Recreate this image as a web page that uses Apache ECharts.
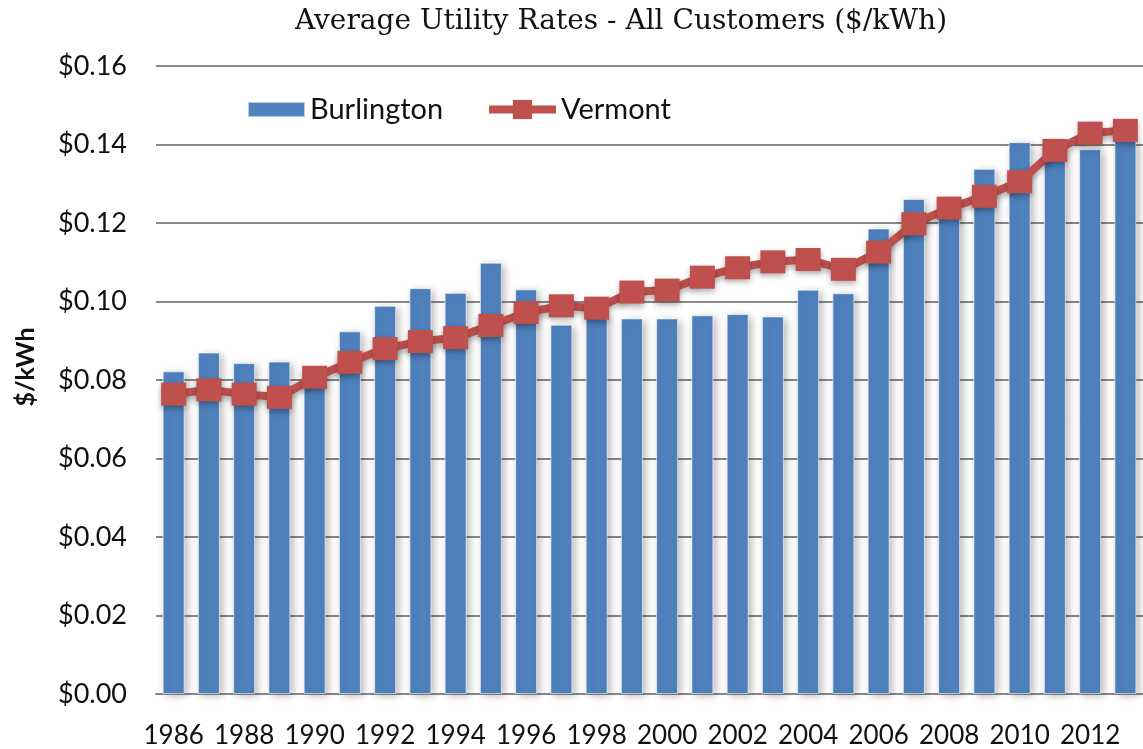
<!DOCTYPE html>
<html>
<head>
<meta charset="utf-8">
<script src="https://cdn.jsdelivr.net/npm/echarts@6/dist/echarts.min.js"></script>
<style>
  html, body { margin: 0; padding: 0; background: #fff; }
  #main { width: 1143px; height: 749px; }
</style>
</head>
<body>
<div id="main"></div>
<script>
var years = ['1986','1987','1988','1989','1990','1991','1992','1993','1994','1995',
    '1996','1997','1998','1999','2000','2001','2002','2003','2004','2005',
    '2006','2007','2008','2009','2010','2011','2012','2013']

var burlington = [0.0822, 0.0870, 0.0843, 0.0847, 0.0810, 0.0924, 0.0989, 0.1034, 0.1022, 0.1099,
    0.1031, 0.0941, 0.0970, 0.0957, 0.0957, 0.0965, 0.0968, 0.0962, 0.1030, 0.1021,
    0.1186, 0.1261, 0.1230, 0.1338, 0.1406, 0.1390, 0.1388, 0.1410]

var vermont = [0.0764, 0.0775, 0.0764, 0.0756, 0.0807, 0.0845, 0.0880, 0.0898, 0.0908, 0.0939,
    0.0972, 0.0989, 0.0983, 0.1024, 0.1029, 0.1062, 0.1086, 0.1101, 0.1107, 0.1082,
    0.1126, 0.1198, 0.1238, 0.1268, 0.1305, 0.1385, 0.1429, 0.1436]

var yTicks = [0, 0.16, 0.02]  // min, max, step

var myChart = echarts.init(document.getElementById('main'))

var option = {
    animation: false,
    title: {
        text: 'Average Utility Rates - All Customers ($/kWh)',
        left: 616,
        textAlign: 'center',
        top: 3,
        textStyle: {
            fontFamily: 'DejaVu Serif',
            fontWeight: 'normal',
            fontSize: 28,
            color: '#111'
        }
    },
    legend: [{
        data: ['Burlington'],
        left: 247,
        top: 95,
        padding: 0,
        itemWidth: 57,
        itemHeight: 15,
        icon: 'rect',
        textStyle: { fontFamily: 'Lato', fontSize: 29, color: '#111' }
    }, {
        data: ['Vermont'],
        left: 485,
        top: 95,
        padding: 0,
        itemWidth: 67,
        itemHeight: 24,
        lineStyle: { width: 8 },
        textStyle: { fontFamily: 'Lato', fontSize: 29, color: '#111' }
    }],
    grid: {
        left: 156,
        right: -15,
        top: 66,
        bottom: 53
    },
    xAxis: {
        type: 'category',
        data: years,
        axisLine: { lineStyle: { color: '#8a8a8a', width: 2 } },
        axisTick: { interval: 0, length: 11, lineStyle: { color: '#8a8a8a', width: 2 } },
        axisLabel: {
            interval: 1,
            margin: 29,
            fontFamily: 'Lato',
            fontSize: 26,
            color: '#111'
        }
    },
    yAxis: {
        type: 'value',
        min: yTicks[0],
        max: yTicks[1],
        interval: yTicks[2],
        name: '$/kWh',
        nameLocation: 'middle',
        nameGap: 118,
        nameRotate: 90,
        nameTextStyle: {
            fontFamily: 'Lato', fontWeight: 'bold', fontSize: 25, color: '#111',
            padding: [0, 0, 0, 26]
        },
        axisLine: { show: false },
        axisTick: { show: false },
        splitLine: { lineStyle: { color: '#8a8a8a', width: 2 } },
        axisLabel: {
            margin: 29,
            fontFamily: 'Lato',
            fontSize: 27,
            color: '#111',
            formatter: function (v) { return '$' + v.toFixed(2) }
        }
    },
    series: [{
        name: 'Burlington',
        type: 'bar',
        data: burlington,
        barWidth: 22,
        itemStyle: {
            color: '#4f81bd',
            borderColor: 'rgba(255,255,255,0.6)',
            borderWidth: 1,
            shadowColor: 'rgba(0,0,0,0.28)',
            shadowBlur: 8,
            shadowOffsetX: 3,
            shadowOffsetY: 2
        }
    }, {
        name: 'Vermont',
        type: 'line',
        data: vermont,
        symbol: 'rect',
        symbolSize: [25, 23],
        lineStyle: {
            color: '#c0504d',
            width: 8,
            shadowColor: 'rgba(0,0,0,0.3)',
            shadowBlur: 6,
            shadowOffsetY: 3
        },
        itemStyle: {
            color: '#c0504d',
            shadowColor: 'rgba(0,0,0,0.3)',
            shadowBlur: 6,
            shadowOffsetY: 3
        }
    }]
}

myChart.setOption(option)
</script>
</body>
</html>
